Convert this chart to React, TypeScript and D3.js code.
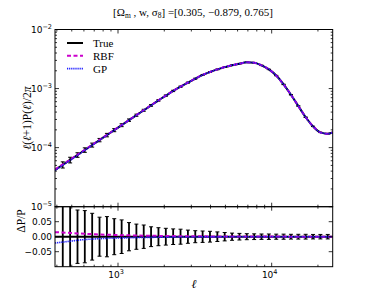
import React, { useEffect, useRef } from 'react';
import * as d3 from 'd3';

// multipole bins (first/last entries are the plot edges, no error bar there)
const ELL = [389, 437, 488, 545, 608, 679, 758, 847, 945, 1056, 1179, 1317, 1470, 1641, 1833, 2047, 2285, 2552, 2850, 3182, 3553, 3967, 4430, 4946, 5523, 6167, 6886, 7689, 8586, 9587, 10705, 11953, 13347, 14903, 16641, 18582, 20748, 23168, 24950];

// l(l+1)P(l)/2pi, "True" curve
const P_TRUE = [4.19e-5, 5.13e-5, 6.19e-5, 7.52e-5, 9.12e-5, 1.107e-4, 1.343e-4, 1.633e-4, 1.98e-4, 2.40e-4, 2.92e-4, 3.54e-4, 4.29e-4, 5.19e-4, 6.31e-4, 7.59e-4, 9.12e-4, 1.076e-3, 1.26e-3, 1.47e-3, 1.70e-3, 1.905e-3, 2.11e-3, 2.31e-3, 2.48e-3, 2.64e-3, 2.78e-3, 2.74e-3, 2.47e-3, 2.11e-3, 1.66e-3, 1.175e-3, 7.85e-4, 5.07e-4, 3.27e-4, 2.29e-4, 1.81e-4, 1.72e-4, 1.80e-4];

// fractional error bars
const ERR = [null, 0.12, 0.11, 0.089, 0.087, 0.078, 0.065, 0.067, 0.06, 0.056, 0.047, 0.042, 0.039, 0.033, 0.03, 0.028, 0.026, 0.025, 0.022, 0.02, 0.019, 0.018, 0.016, 0.014, 0.012, 0.011, 0.01, 0.0095, 0.009, 0.009, 0.0085, 0.0085, 0.008, 0.008, 0.008, 0.0075, 0.0075, 0.0075, null];

// emulator residuals dP/P
const RES_RBF = [0.015, 0.014, 0.0125, 0.011, 0.0095, 0.0085, 0.0075, 0.0065, 0.0058, 0.005, 0.0045, 0.004, 0.0035, 0.003, 0.0027, 0.0024, 0.002, 0.0018, 0.0015, 0.0013, 0.0012, 0.001, 0.001, 0.0008, 0.0007, 0.0006, 0.0005, 0.0005, 0.0004, 0.0004, 0.0003, 0.0003, 0.0002, 0.0002, 0.0002, 0.0001, 0.0001, 0.0001, 0.0001];
const RES_GP = [-0.021, -0.018, -0.015, -0.012, -0.0095, -0.008, -0.0065, -0.0055, -0.0048, -0.0042, -0.0036, -0.003, -0.0026, -0.0022, -0.0019, -0.0016, -0.0013, -0.0011, -0.001, -0.0008, -0.0007, -0.0006, -0.0005, -0.0004, -0.0003, -0.0003, -0.0002, -0.0002, -0.0002, -0.0001, -0.0001, -0.0001, -0.0001, 0, 0, 0, 0, 0, 0];

const RES_TICKS = [-0.05, 0, 0.05];
const RES_TICK_LABELS = ['\u22120.05', '0.00', '0.05'];

const SERIES = [
    { name: 'True', color: '#000000', width: 2, dash: null as string | null },
    { name: 'RBF', color: '#cc00cc', width: 2, dash: '4,2.5' },
    { name: 'GP', color: '#1a1aff', width: 1.6, dash: '1.2,0.9' },
];

const W = 370;
const H = 296;
const L = 55, R = 332.7, TOP = 29.5, MID = 206.7, BOT = 266.7;
const SANS = 'DejaVu Sans, sans-serif';
const SERIF = 'Liberation Serif, DejaVu Serif, serif';

export default function App() {
    const svgRef = useRef<SVGSVGElement>(null);

    useEffect(() => {
        if (!svgRef.current) return;
        const svg = d3.select(svgRef.current);
        svg.selectAll('*').remove();

        const x = d3.scaleLog().domain([ELL[0], ELL[ELL.length - 1]]).range([L, R]);
        const y = d3.scaleLog().domain([1e-5, 1e-2]).range([MID, TOP]);
        const yr = d3.scaleLinear().domain([-0.1, 0.1]).range([BOT, MID]);

        const rows = ELL.map((l, i) => ({
            l, p: P_TRUE[i], e: ERR[i], rbf: RES_RBF[i], gp: RES_GP[i],
        }));
        const bins = rows.filter(d => d.e !== null);

        const defs = svg.append('defs');
        defs.append('clipPath').attr('id', 'clipMain')
            .append('rect').attr('x', L).attr('y', TOP).attr('width', R - L).attr('height', MID - TOP);
        defs.append('clipPath').attr('id', 'clipRes')
            .append('rect').attr('x', L).attr('y', MID).attr('width', R - L).attr('height', BOT - MID);

        svg.append('rect').attr('width', W).attr('height', H).attr('fill', '#fff');

        // ---- main panel ----
        const gm = svg.append('g').attr('clip-path', 'url(#clipMain)');
        const cap = 2;
        bins.forEach(d => {
            const cx = x(d.l);
            const y0 = y(d.p * (1 - (d.e as number)));
            const y1 = y(d.p * (1 + (d.e as number)));
            gm.append('line').attr('x1', cx).attr('x2', cx).attr('y1', y0).attr('y2', y1)
                .attr('stroke', '#000').attr('stroke-width', 1.4);
            [y0, y1].forEach(yy => gm.append('line').attr('x1', cx - cap).attr('x2', cx + cap)
                .attr('y1', yy).attr('y2', yy).attr('stroke', '#000').attr('stroke-width', 1));
        });

        const lineMain = d3.line<{ l: number; v: number }>()
            .x(d => x(d.l)).y(d => y(d.v)).curve(d3.curveMonotoneX);
        const mainSeries = [
            rows.map(d => ({ l: d.l, v: d.p })),
            rows.map(d => ({ l: d.l, v: d.p * (1 + d.rbf) })),
            rows.map(d => ({ l: d.l, v: d.p * (1 + d.gp) })),
        ];
        mainSeries.forEach((s, i) => {
            gm.append('path').attr('d', lineMain(s) as string).attr('fill', 'none')
                .attr('stroke', SERIES[i].color).attr('stroke-width', SERIES[i].width)
                .attr('stroke-dasharray', SERIES[i].dash);
        });

        // ---- residual panel ----
        const gr = svg.append('g').attr('clip-path', 'url(#clipRes)');
        bins.forEach(d => {
            const cx = x(d.l);
            const y0 = yr(-(d.e as number));
            const y1 = yr(d.e as number);
            gr.append('line').attr('x1', cx).attr('x2', cx).attr('y1', y0).attr('y2', y1)
                .attr('stroke', '#000').attr('stroke-width', 1.8);
            [y0, y1].forEach(yy => gr.append('line').attr('x1', cx - cap).attr('x2', cx + cap)
                .attr('y1', yy).attr('y2', yy).attr('stroke', '#000').attr('stroke-width', 1));
        });
        const lineRes = d3.line<{ l: number; v: number }>()
            .x(d => x(d.l)).y(d => yr(d.v)).curve(d3.curveMonotoneX);
        const resSeries = [
            rows.map(d => ({ l: d.l, v: 0 })),
            rows.map(d => ({ l: d.l, v: d.rbf })),
            rows.map(d => ({ l: d.l, v: d.gp })),
        ];
        resSeries.forEach((s, i) => {
            gr.append('path').attr('d', lineRes(s) as string).attr('fill', 'none')
                .attr('stroke', SERIES[i].color).attr('stroke-width', SERIES[i].width)
                .attr('stroke-dasharray', SERIES[i].dash);
        });

        // ---- frames and ticks ----
        const axes = svg.append('g').attr('stroke', '#000').attr('fill', 'none');
        axes.append('rect').attr('x', L).attr('y', TOP).attr('width', R - L).attr('height', MID - TOP).attr('stroke-width', 1);
        axes.append('rect').attr('x', L).attr('y', MID).attr('width', R - L).attr('height', BOT - MID).attr('stroke-width', 1);

        const isMajor = (v: number) => Math.abs(Math.log10(v) - Math.round(Math.log10(v))) < 1e-9;
        const xt = x.ticks();
        [[TOP, MID], [MID, BOT]].forEach(([t, b]) => {
            xt.forEach(v => {
                const len = isMajor(v) ? 4 : 2;
                const px = x(v);
                axes.append('line').attr('x1', px).attr('x2', px).attr('y1', b).attr('y2', b - len).attr('stroke-width', 0.8);
                axes.append('line').attr('x1', px).attr('x2', px).attr('y1', t).attr('y2', t + len).attr('stroke-width', 0.8);
            });
        });
        y.ticks().forEach(v => {
            const len = isMajor(v) ? 4 : 2;
            const py = y(v);
            axes.append('line').attr('x1', L).attr('x2', L + len).attr('y1', py).attr('y2', py).attr('stroke-width', 0.8);
            axes.append('line').attr('x1', R).attr('x2', R - len).attr('y1', py).attr('y2', py).attr('stroke-width', 0.8);
        });
        RES_TICKS.forEach(v => {
            const py = yr(v);
            axes.append('line').attr('x1', L).attr('x2', L + 4).attr('y1', py).attr('y2', py).attr('stroke-width', 0.8);
            axes.append('line').attr('x1', R).attr('x2', R - 4).attr('y1', py).attr('y2', py).attr('stroke-width', 0.8);
        });

        // ---- tick labels ----
        const labels = svg.append('g').attr('fill', '#000').attr('font-family', SANS).attr('font-size', 9);
        [3, 4].forEach(k => {
            const t = labels.append('text').attr('x', x(Math.pow(10, k)) - 2).attr('y', BOT + 11).attr('text-anchor', 'middle');
            t.append('tspan').text('10');
            t.append('tspan').attr('dy', -4).attr('font-size', 6.5).text(String(k));
        });
        [-5, -4, -3, -2].forEach(k => {
            const t = labels.append('text').attr('x', L - 3).attr('y', y(Math.pow(10, k)) + 3.5).attr('text-anchor', 'end');
            t.append('tspan').text('10');
            t.append('tspan').attr('dy', -4).attr('font-size', 6.5).text('\u2212' + String(-k));
        });
        RES_TICKS.forEach((v, i) => {
            labels.append('text').attr('x', L - 3).attr('y', yr(v) + 3.5).attr('text-anchor', 'end').text(RES_TICK_LABELS[i]);
        });

        // ---- titles ----
        const txt = svg.append('g').attr('fill', '#000').attr('font-family', SERIF);
        const title = txt.append('text').attr('x', 193).attr('y', 16).attr('text-anchor', 'middle').attr('font-size', 11);
        title.append('tspan').text('[\u03A9');
        title.append('tspan').attr('dy', 2).attr('font-size', 7.5).text('m');
        title.append('tspan').attr('dy', -2).text(' , w, \u03C3');
        title.append('tspan').attr('dy', 2).attr('font-size', 7.5).text('8');
        title.append('tspan').attr('dy', -2).text('] =[0.305, \u22120.879, 0.765]');

        const yl = txt.append('text').attr('transform', `translate(31,${(TOP + MID) / 2}) rotate(-90)`)
            .attr('text-anchor', 'middle').attr('font-size', 11.5);
        yl.append('tspan').attr('font-style', 'italic').text('\u2113');
        yl.append('tspan').text('(');
        yl.append('tspan').attr('font-style', 'italic').text('\u2113');
        yl.append('tspan').text('+1)P(');
        yl.append('tspan').attr('font-style', 'italic').text('\u2113');
        yl.append('tspan').text(')/2');
        yl.append('tspan').attr('font-style', 'italic').text('\u03C0');

        txt.append('text').attr('transform', `translate(25,221) rotate(-90)`)
            .attr('text-anchor', 'middle').attr('font-size', 11.5).text('\u0394P/P');

        txt.append('text').attr('x', 194).attr('y', 288).attr('text-anchor', 'middle')
            .attr('font-size', 12).attr('font-style', 'italic').text('\u2113');

        // ---- legend ----
        const lg = svg.append('g');
        SERIES.forEach((s, i) => {
            const ly = 43 + i * 12.8;
            lg.append('line').attr('x1', 67).attr('x2', 83).attr('y1', ly).attr('y2', ly)
                .attr('stroke', s.color).attr('stroke-width', s.width).attr('stroke-dasharray', s.dash);
            lg.append('text').attr('x', 93).attr('y', ly + 4).attr('font-family', SERIF)
                .attr('font-size', 11).attr('fill', '#000').text(s.name);
        });
    }, []);

    return (
        <svg ref={svgRef} width={W} height={H}
            style={{ position: 'absolute', left: 0, top: 0, display: 'block' }} />
    );
}
